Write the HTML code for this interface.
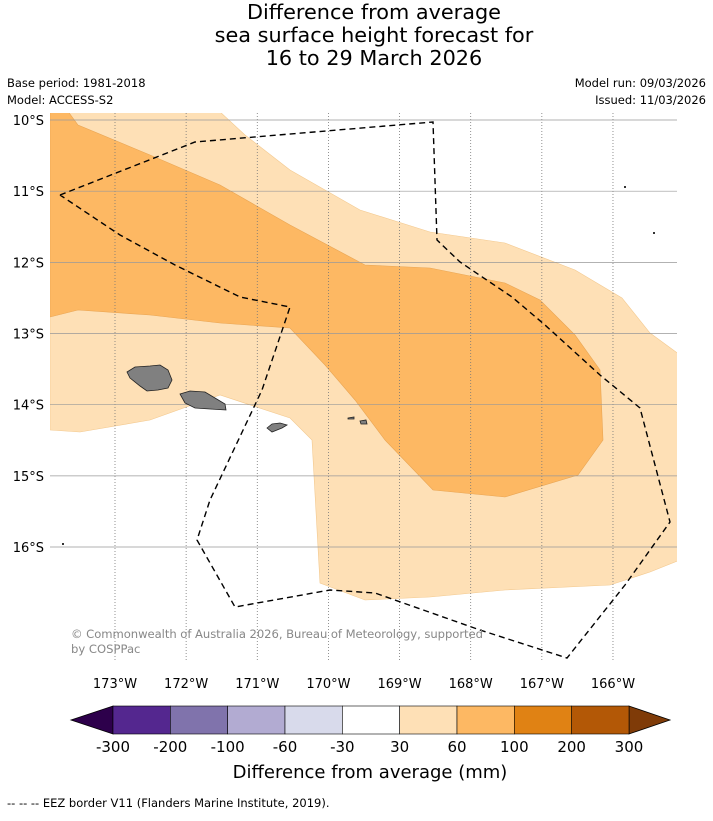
<!DOCTYPE html>
<html><head><meta charset="utf-8"><style>
body{margin:0;background:#fff;font-family:"Liberation Sans","DejaVu Sans",sans-serif}
svg text{font-family:"DejaVu Sans","Liberation Sans",sans-serif}
</style></head><body>
<svg width="713" height="816" viewBox="0 0 713 816">
<g font-size="20.8" text-anchor="middle" fill="#000">
<text x="374" y="19">Difference from average</text>
<text x="374" y="42">sea surface height forecast for</text>
<text x="374" y="65">16 to 29 March 2026</text>
</g>
<g font-size="11.5" fill="#000">
<text x="7" y="87">Base period: 1981-2018</text>
<text x="7" y="104">Model: ACCESS-S2</text>
<text x="706" y="87" text-anchor="end">Model run: 09/03/2026</text>
<text x="706" y="104" text-anchor="end">Issued: 11/03/2026</text>
</g>
<defs><clipPath id="mc"><rect x="50" y="113" width="627" height="549"/></clipPath></defs>
<g id="map" clip-path="url(#mc)"></g>
<g id="axes"></g>
<text x="71" y="638" font-size="11.6" fill="#888" textLength="412">© Commonwealth of Australia 2026, Bureau of Meteorology, supported</text>
<text x="71" y="653" font-size="11.6" fill="#888">by COSPPac</text>
<g id="cbar"></g>
<text x="370" y="778" font-size="18" text-anchor="middle">Difference from average (mm)</text>
<text x="7" y="807" font-size="11.5">--  --  -- EEZ border V11 (Flanders Marine Institute, 2019).</text>
</svg>
<script>
const lonTicks=[-173,-172,-171,-170,-169,-168,-167,-166];
const latTicks=[-10,-11,-12,-13,-14,-15,-16];
const cbLevels=[-300,-200,-100,-60,-30,30,60,100,200,300];
const cbColors=["#54278f","#8073ac","#b2abd2","#d8daeb","#ffffff","#fee0b6","#fdb863","#e08214","#b35806"];
const lightPx=[[50,110],[218,110],[245,135],[290,170],[360,210],[430,232],[505,243],[575,270],[622,298],[650,333],[680,355],[680,560],[650,572],[610,585],[505,590],[430,597],[365,600],[320,583],[312,440],[290,418],[220,395],[150,420],[80,432],[50,430]];
const darkPx=[[50,110],[67,110],[78,125],[150,155],[220,185],[290,225],[365,265],[430,268],[505,283],[540,300],[575,335],[600,370],[603,440],[578,475],[505,497],[433,490],[385,440],[355,400],[325,365],[290,328],[220,323],[150,315],[78,310],[50,317]];
const eezPx=[[60,195],[195,142],[433,122],[437,240],[460,262],[512,297],[545,325],[600,375],[640,408],[670,522],[625,585],[567,658],[480,630],[375,593],[330,590],[235,607],[197,540],[210,500],[262,390],[290,307],[240,297],[175,265],[120,235],[60,195]];
const islandsPx=[
[[127,372],[135,367],[150,366],[160,365],[168,370],[172,380],[168,388],[158,390],[147,391],[140,386],[130,378]],
[[180,394],[190,391],[205,392],[215,398],[225,404],[226,410],[210,409],[195,408],[185,403]],
[[267,428],[272,424],[280,423],[287,425],[282,428],[272,432]],
[[348,418],[354,417],[354,419],[348,419]],[[360,421],[366,420],[367,424],[361,424]]];
function X(lon){return 115+(lon+173)*71.14}
function Y(lat){return 120+(-10-lat)*71.17}
const toLL=p=>[-173+(p[0]-115)/71.14,-10-(p[1]-120)/71.17];
const NS="http://www.w3.org/2000/svg";
function el(t,a,p){const e=document.createElementNS(NS,t);for(const k in a)e.setAttribute(k,a[k]);p.appendChild(e);return e}
function pts(arr){return arr.map(toLL).map(q=>X(q[0]).toFixed(1)+","+Y(q[1]).toFixed(1)).join(" ")}
const map=document.getElementById('map');
let r=el('rect',{x:50,y:113,width:627,height:549,fill:'#fff'},map);


let p=el('polygon',{points:pts(lightPx),fill:'#fee0b6',stroke:'#f3c98f','stroke-width':0.6},map);


p=el('polygon',{points:pts(darkPx),fill:'#fdb863',stroke:'#e9a553','stroke-width':0.6},map);


lonTicks.forEach(l=>{const g=el('line',{x1:X(l),x2:X(l),y1:113,y2:662,stroke:'#777','stroke-width':0.8,'stroke-dasharray':'1,2'},map);

});
latTicks.forEach(l=>{const g=el('line',{x1:50,x2:677,y1:Y(l),y2:Y(l),stroke:'#999','stroke-width':0.7},map);

});
islandsPx.forEach(is=>{const g=el('polygon',{points:pts(is),fill:'#808080',stroke:'#222','stroke-width':0.8},map);

});
[[624,186],[653,232],[62,543]].forEach(q=>{const g=el('rect',{x:q[0],y:q[1],width:2,height:2,fill:'#333'},map);

});
p=el('polyline',{points:pts(eezPx),fill:'none',stroke:'#000','stroke-width':1.4,'stroke-dasharray':'6,4'},map);


const ax=document.getElementById('axes');
lonTicks.forEach(l=>{const t=el('text',{x:X(l),y:688,'font-size':13,'text-anchor':'middle'},ax);t.textContent=(-l)+"°W";

});
latTicks.forEach(l=>{const t=el('text',{x:44,y:Y(l)+5,'font-size':13,'text-anchor':'end'},ax);t.textContent=(-l)+"°S";

});
const cb=document.getElementById('cbar');
const x0=113,x1=629,y0=706,y1=734,n=cbColors.length,w=(x1-x0)/n;
let tr=el('polygon',{points:`${x0},${y0} ${x0},${y1} 71,${(y0+y1)/2}`,fill:'#2d004b',stroke:'#000','stroke-width':0.8},cb);


tr=el('polygon',{points:`${x1},${y0} ${x1},${y1} 670,${(y0+y1)/2}`,fill:'#7f3b08',stroke:'#000','stroke-width':0.8},cb);


cbColors.forEach((c,i)=>{const b=el('rect',{x:x0+i*w,y:y0,width:w,height:y1-y0,fill:c,stroke:'#000','stroke-width':0.6},cb);

});
cbLevels.forEach((v,i)=>{const t=el('text',{x:x0+i*w,y:752,'font-size':15,'text-anchor':'middle'},cb);t.textContent=v;

});
</script>
</body></html>
